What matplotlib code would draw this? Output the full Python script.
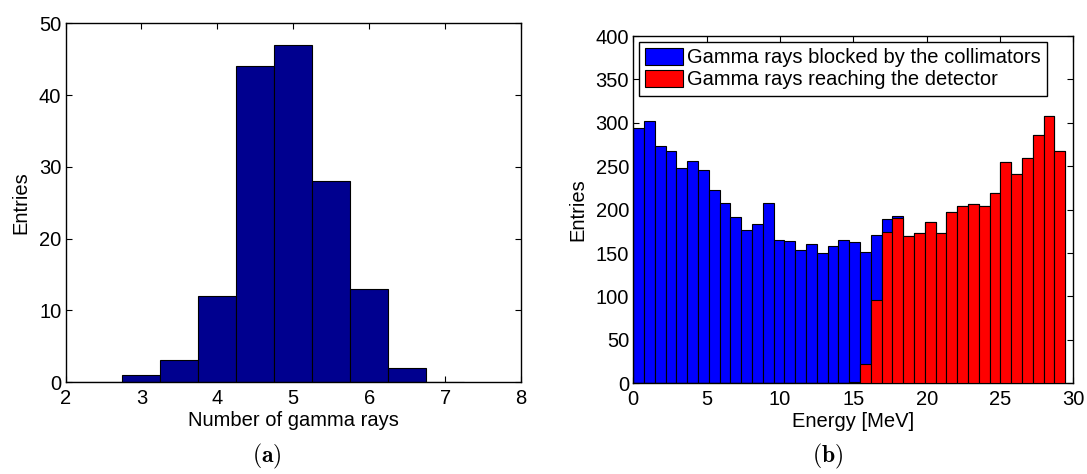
import numpy as np
import matplotlib
matplotlib.use("Agg")
import matplotlib.pyplot as plt
from matplotlib.patches import Patch

plt.rcParams['font.family'] = ['Liberation Sans', 'DejaVu Sans']
plt.rcParams['mathtext.fontset'] = 'cm'

# ---------------- data: panel (a) ----------------
n_gamma_centers = [2.0, 2.5, 3.0, 3.5, 4.0, 4.5, 5.0, 5.5, 6.0, 6.5, 7.0]
n_gamma_counts = [0, 0, 1, 3, 12, 44, 47, 28, 13, 2, 0]

# ---------------- data: panel (b) ----------------
energy_min = 0.0
energy_max = 29.45
n_energy_bins = 40
blocked_counts = [294, 302, 273, 267, 248, 256, 246, 223, 208, 191,
                  176, 183, 208, 165, 164, 153, 161, 150, 158, 165,
                  163, 151, 171, 189, 193, 170, 173, 186, 173, 197,
                  204, 207, 204, 219, 255, 241, 260, 286, 308, 267]
reaching_counts = [0, 0, 0, 0, 0, 0, 0, 0, 0, 0,
                   0, 0, 0, 0, 0, 0, 0, 0, 0, 0,
                   1, 22, 96, 174, 190, 170, 173, 186, 173, 197,
                   204, 207, 204, 219, 255, 241, 260, 286, 308, 267]
legend_labels = ["Gamma rays blocked by the collimators",
                 "Gamma rays reaching the detector"]

FS = 14.5
fig = plt.figure(figsize=(10.87, 4.74), dpi=100)

def style(ax):
    ax.tick_params(direction='in', top=True, right=True, length=4,
                   width=0.8, labelsize=FS)
    ax.tick_params(axis='x', pad=5)
    ax.tick_params(axis='y', pad=3)
    for s in ax.spines.values():
        s.set_linewidth(1.0)
        s.set_color('black')

# ---- panel (a)
ax1 = fig.add_axes([65.5/1087, 1-382/474, (521-65.5)/1087, (382-23.3)/474])
ax1.bar(n_gamma_centers, n_gamma_counts, width=0.5, color='#00008F',
        edgecolor='black', linewidth=0.8, zorder=2)
ax1.set_xlim(2, 8)
ax1.set_ylim(0, 50)
ax1.set_xticks(range(2, 9))
ax1.set_yticks(range(0, 51, 10))
ax1.set_xlabel("Number of gamma rays", fontsize=FS, labelpad=2)
ax1.set_ylabel("Entries", fontsize=FS, labelpad=6)
style(ax1)

# ---- panel (b)
edges = np.linspace(energy_min, energy_max, n_energy_bins + 1)
ax2 = fig.add_axes([633.3/1087, 1-383.3/474, (1073.3-633.3)/1087, (383.3-36)/474])
ax2.bar(edges[:-1], blocked_counts, width=np.diff(edges), align='edge',
        color='#0000FF', edgecolor='black', linewidth=0.8, zorder=2)
ax2.bar(edges[:-1], reaching_counts, width=np.diff(edges), align='edge',
        color='#FF0000', edgecolor='black', linewidth=0.8, zorder=3)
ax2.set_xlim(0, 30)
ax2.set_ylim(0, 400)
ax2.set_xticks(range(0, 31, 5))
ax2.set_yticks(range(0, 401, 50))
ax2.set_xlabel("Energy [MeV]", fontsize=FS, labelpad=2)
ax2.set_ylabel("Entries", fontsize=FS, labelpad=6)
style(ax2)

handles = [Patch(facecolor='#0000FF', edgecolor='black', linewidth=0.8),
           Patch(facecolor='#FF0000', edgecolor='black', linewidth=0.8)]
leg = ax2.legend(handles, legend_labels, loc='upper left', fontsize=FS,
                 frameon=True, fancybox=False, framealpha=1, edgecolor='black',
                 handlelength=1.87, handleheight=0.88, handletextpad=0.2,
                 borderpad=0.3, labelspacing=0.15, borderaxespad=0.3)
leg.get_frame().set_linewidth(1.0)
leg.set_zorder(5)

# captions
fig.text(267/1087, 1-456/474, r"$\mathbf{(a)}$", ha='center', va='center', fontsize=17)
fig.text(828/1087, 1-456/474, r"$\mathbf{(b)}$", ha='center', va='center', fontsize=17)

fig.savefig("out.png", dpi=100)
